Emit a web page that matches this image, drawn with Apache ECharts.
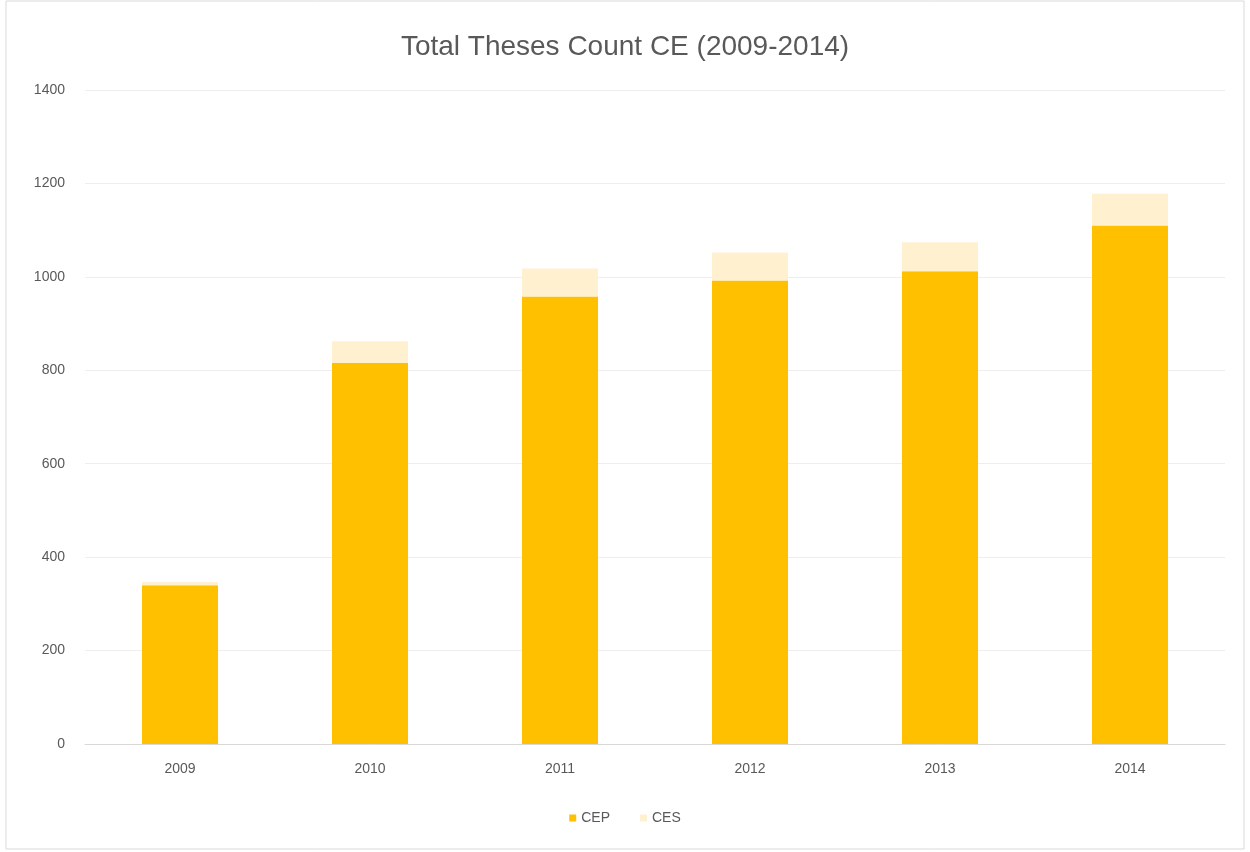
<!DOCTYPE html>
<html><head><meta charset="utf-8">
<script src="https://cdn.jsdelivr.net/npm/echarts@6/dist/echarts.min.js"></script>
<style>html,body{margin:0;padding:0;background:#fff}#c{width:1250px;height:852px}</style>
</head><body><div id="c"></div>
<script>
const categories = ['2009','2010','2011','2012','2013','2014'];
const cep = [340, 816, 958, 992, 1012, 1110];
const ces = [7, 46, 60, 60, 62, 68];
const yTicks = [0, 200, 400, 600, 800, 1000, 1200, 1400];

const chart = echarts.init(document.getElementById('c'));
chart.setOption({
  animation: false,
  backgroundColor: '#fff',
  title: {
    text: 'Total Theses Count CE (2009-2014)', left: 'center', top: 28,
    textStyle: { fontFamily: 'Liberation Sans', fontSize: 28, fontWeight: 'normal', color: '#595959' }
  },
  graphic: [{ type: 'rect', shape: { x: 6, y: 1, width: 1238, height: 848 }, style: { fill: 'none', stroke: '#d9d9d9', lineWidth: 1 } }],
  legend: {
    bottom: 22, left: 'center', itemWidth: 7, itemHeight: 7, itemGap: 30, icon: 'rect',
    textStyle: { fontFamily: 'Liberation Sans', fontSize: 14, color: '#595959' }
  },
  grid: { left: 85, right: 25, top: 90, bottom: 108 },
  xAxis: {
    type: 'category', data: categories,
    axisLine: { lineStyle: { color: '#d9d9d9' } }, axisTick: { show: false },
    axisLabel: { fontFamily: 'Liberation Sans', fontSize: 14, color: '#595959', margin: 18 }
  },
  yAxis: {
    type: 'value', min: yTicks[0], max: yTicks[yTicks.length - 1], interval: 200,
    axisLine: { show: false }, axisTick: { show: false },
    splitLine: { lineStyle: { color: '#eeeeee' } },
    axisLabel: { fontFamily: 'Liberation Sans', fontSize: 14, color: '#595959', margin: 20, align: 'right', formatter: v => String(v) }
  },
  series: [
    { name: 'CEP', type: 'bar', stack: 't', data: cep, barWidth: '40%', itemStyle: { color: '#FFC000' } },
    { name: 'CES', type: 'bar', stack: 't', data: ces, barWidth: '40%', itemStyle: { color: '#FFF0D0' } }
  ]
});
</script></body></html>
